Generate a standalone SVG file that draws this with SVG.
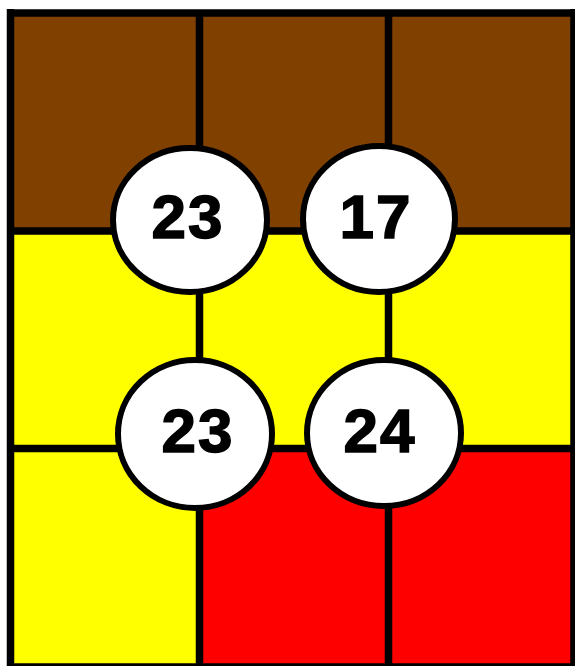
<svg xmlns="http://www.w3.org/2000/svg" width="575" height="666" viewBox="0 0 575 666">
<style>
.grid{stroke:#000;stroke-width:7.5;fill:none}
.node ellipse{fill:#fff;stroke:#000;stroke-width:6}
.node text{font-family:"Liberation Sans",Arial,sans-serif;font-weight:bold;font-size:62px;fill:#000;stroke:#000;stroke-width:1.5;text-anchor:middle;letter-spacing:2px}
</style>
<rect width="575" height="666" fill="#fff"/>
<g id="cells">
<rect x="10" y="13" width="565" height="218" fill="#804000"/>
<rect x="10" y="231" width="565" height="218" fill="#ffff00"/>
<rect x="10" y="449" width="190" height="217" fill="#ffff00"/>
<rect x="199" y="449" width="376" height="217" fill="#ff0000"/>
</g>
<g id="connectors" class="grid">
<path d="M10.5 9V666M199.5 13V666M388.5 13V666M574 9V666"/>
<path d="M7 13H575M7 231H575M7 448.5H575M7 667H575"/>
</g>
<g id="n1" class="node"><ellipse cx="190" cy="220" rx="77" ry="72"/><text x="188" y="238">23</text></g>
<g id="n2" class="node"><ellipse cx="379" cy="219" rx="76" ry="73"/><text x="376" y="238">17</text></g>
<g id="n3" class="node"><ellipse cx="195" cy="434" rx="77" ry="74"/><text x="198" y="452">23</text></g>
<g id="n4" class="node"><ellipse cx="384" cy="433" rx="77" ry="73"/><text x="380" y="452">24</text></g>
</svg>
